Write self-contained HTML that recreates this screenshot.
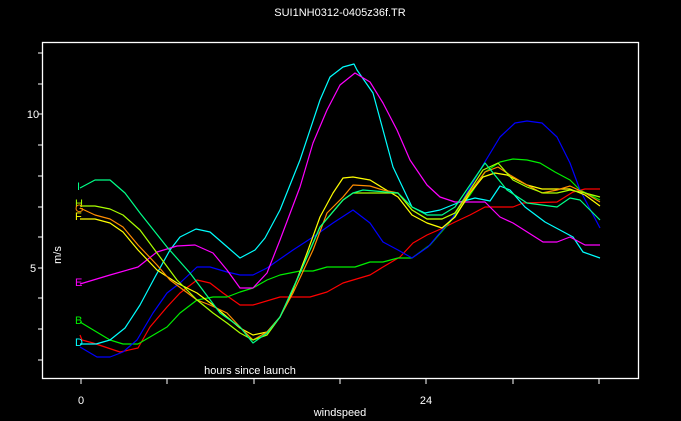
<!DOCTYPE html>
<html><head><style>
html,body{margin:0;padding:0;background:#000;}
svg{display:block;}
text{font-family:"Liberation Sans",sans-serif;fill:#fff;}
</style></head><body>
<svg width="681" height="421" viewBox="0 0 681 421" xmlns="http://www.w3.org/2000/svg">
<rect width="681" height="421" fill="#000"/>
<text x="340" y="16" font-size="11" text-anchor="middle">SUI1NH0312-0405z36f.TR</text>
<rect x="42.5" y="42.5" width="596" height="336" fill="none" stroke="#fff" stroke-width="1.3"/>
<g stroke="#fff" stroke-width="1">
<line x1="81" y1="379" x2="81" y2="384"/><line x1="167" y1="379" x2="167" y2="384"/><line x1="254" y1="379" x2="254" y2="384"/><line x1="340" y1="379" x2="340" y2="384"/><line x1="426" y1="379" x2="426" y2="384"/><line x1="513" y1="379" x2="513" y2="384"/><line x1="599" y1="379" x2="599" y2="384"/>
<line x1="38" y1="114" x2="43" y2="114"/><line x1="38" y1="145" x2="43" y2="145"/><line x1="38" y1="176" x2="43" y2="176"/><line x1="38" y1="207" x2="43" y2="207"/><line x1="38" y1="237" x2="43" y2="237"/><line x1="38" y1="268" x2="43" y2="268"/><line x1="38" y1="298" x2="43" y2="298"/><line x1="38" y1="329" x2="43" y2="329"/><line x1="38" y1="360" x2="43" y2="360"/><line x1="38" y1="84" x2="43" y2="84"/><line x1="38" y1="53" x2="43" y2="53"/>
</g>
<text x="33" y="118" font-size="11" text-anchor="middle">10</text>
<text x="33" y="272" font-size="11" text-anchor="middle">5</text>
<text x="81" y="404" font-size="11" text-anchor="middle">0</text>
<text x="426" y="404" font-size="11" text-anchor="middle">24</text>
<text x="340" y="416" font-size="11" text-anchor="middle">windspeed</text>
<text x="250" y="374" font-size="11" text-anchor="middle">hours since launch</text>
<text x="0" y="0" font-size="11" text-anchor="middle" transform="translate(61,255) rotate(-90)">m/s</text>
<g fill="none" stroke-width="1.2" stroke-linejoin="round">
<polyline stroke="#ff0000" points="80,335 82,340 93,343 120,352 138,348 150,327 167,307 180,293 197,280 210,283 223,293 240,305 253,305 280,297 310,297 327,292 343,283 370,275 383,267 400,257 413,243 427,235 443,228 455,222 470,215 485,207 513,207 523,203 557,202 573,192 585,189 600,189"/>
<polyline stroke="#00ee00" points="80,322 110,340 123,344 138,344 150,337 167,327 180,313 197,300 213,297 227,297 240,292 253,288 267,280 280,275 300,271 313,271 327,267 340,267 355,267 370,262 383,262 398,258 412,258 430,245 450,222 470,195 485,172 500,162 513,159 527,160 540,163 555,172 570,180 580,190 600,200"/>
<polyline stroke="#0000ff" points="80,347 97,357 110,357 123,352 137,340 153,313 167,293 180,283 197,267 210,267 227,272 240,275 253,275 267,268 293,250 313,237 333,223 353,210 370,223 383,242 398,250 412,258 428,247 453,217 483,165 500,137 515,123 527,121 542,123 557,137 570,163 580,190 600,228"/>
<polyline stroke="#00ffff" points="80,344 96,344 110,340 125,328 140,305 155,277 170,250 180,237 196,229 210,232 225,245 240,258 255,250 265,238 280,210 300,160 320,100 330,77 343,67 354,64 357,70 373,93 393,167 412,207 425,213 440,210 460,202 475,198 490,201 500,186 510,190 525,207 545,222 573,237 583,252 600,258"/>
<polyline stroke="#ff00ff" points="80,284 110,275 138,267 157,252 177,246 195,245 213,253 227,270 240,288 253,288 267,273 280,240 300,187 313,143 327,110 340,85 355,73 370,82 383,103 397,130 410,160 427,185 440,197 455,202 485,202 500,217 513,223 543,242 557,242 570,237 585,245 600,245"/>
<polyline stroke="#ffff00" points="80,219 95,219 110,223 123,232 138,250 157,270 177,283 197,293 213,305 227,317 240,328 253,335 267,332 280,317 293,290 307,253 320,217 333,193 343,178 353,177 370,180 383,188 398,197 412,215 427,223 442,228 455,217 470,193 483,177 495,173 507,175 527,185 542,189 570,189 585,195 600,206"/>
<polyline stroke="#ff8c00" points="80,208 95,215 110,219 123,227 138,245 157,265 170,280 197,300 210,305 227,313 240,327 253,340 267,332 280,317 293,293 313,250 327,213 343,197 353,185 370,186 383,190 398,193 412,210 427,219 442,219 455,213 470,192 485,172 498,167 510,175 527,185 542,193 557,190 570,186 585,193 600,202"/>
<polyline stroke="#aaff00" points="80,206 95,206 110,209 123,215 140,230 157,253 177,280 197,300 213,313 227,323 240,333 253,340 267,335 280,317 300,273 320,227 343,200 353,193 398,193 412,210 427,219 442,219 455,213 483,170 498,163 513,180 527,187 543,193 557,193 570,190 585,193 600,197"/>
<polyline stroke="#00ff88" points="80,188 95,180 110,180 125,193 140,213 167,247 190,273 220,313 240,327 253,343 267,333 280,317 300,273 320,227 343,200 353,193 363,190 398,193 412,207 427,215 442,215 455,207 485,163 507,190 527,203 557,207 570,198 580,200 600,220"/>
</g>
<g font-size="11">
<text x="77" y="190" style="fill:#00ff88">I</text>
<text x="75" y="207" style="fill:#aaff00">H</text>
<text x="75" y="212" style="fill:#ff8c00">G</text>
<text x="75" y="220" style="fill:#ffff00">F</text>
<text x="75" y="286" style="fill:#ff00ff">E</text>
<text x="75" y="324" style="fill:#00ee00">B</text>
<text x="75" y="346" style="fill:#00ffff">D</text>
</g>
</svg>
</body></html>
